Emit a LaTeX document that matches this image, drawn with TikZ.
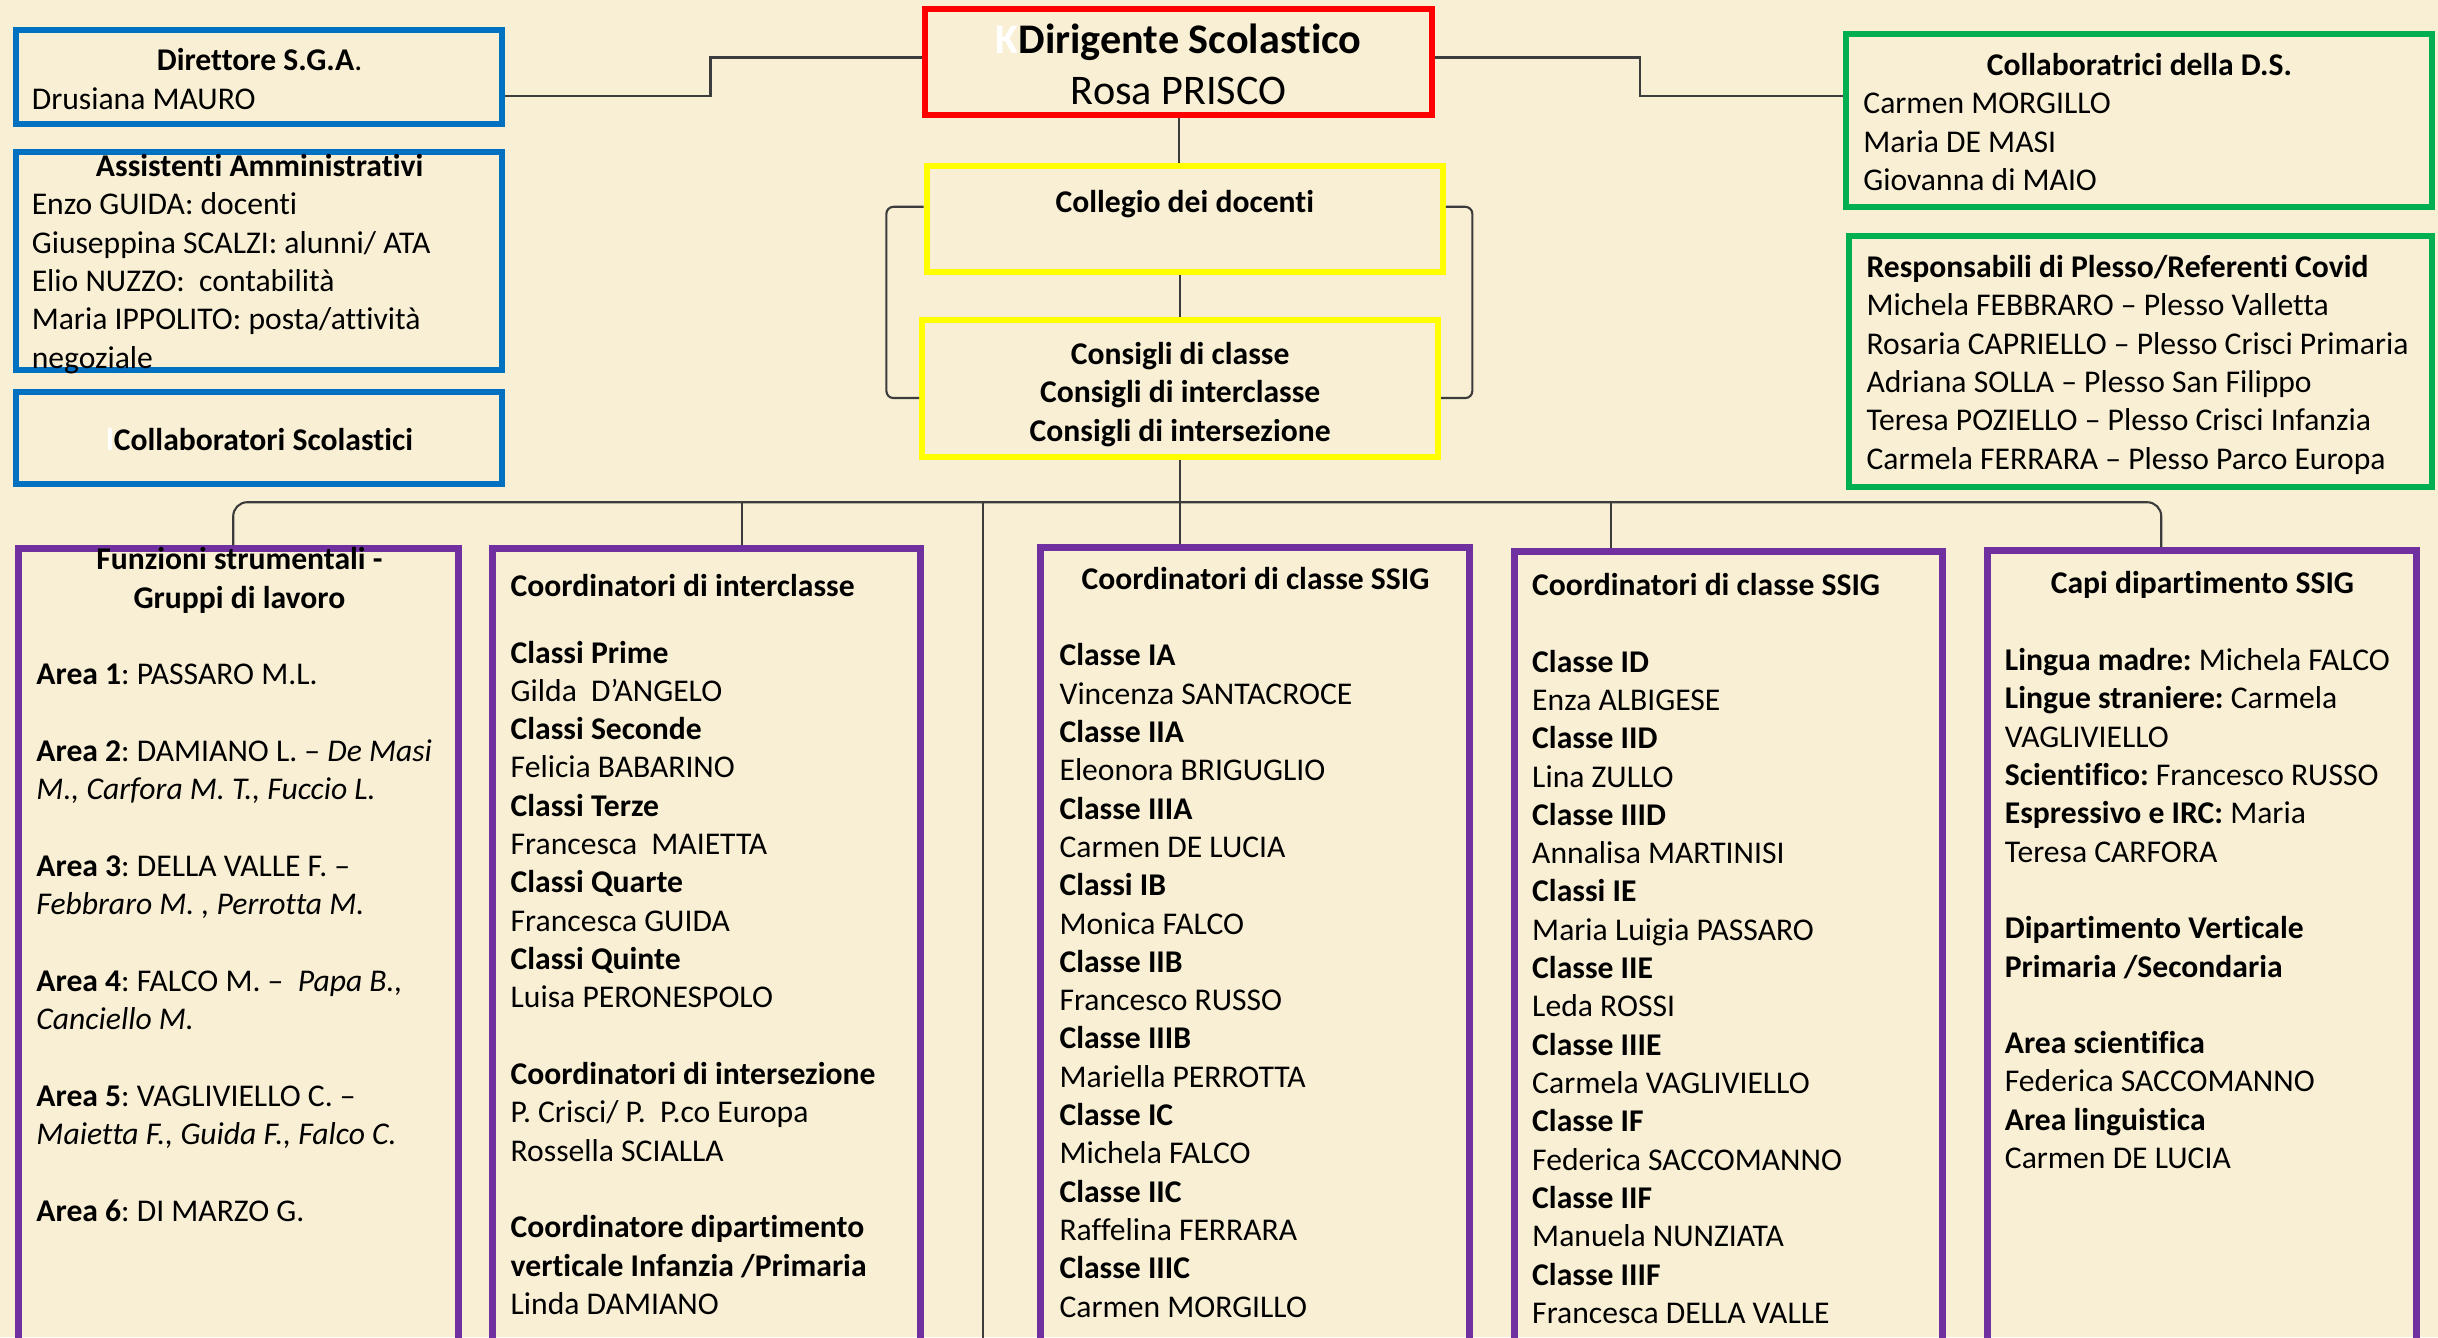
\documentclass[tikz,border=0pt]{standalone}
\usepackage{fontspec}
\setmainfont{Carlito}[Ligatures=NoCommon]
\usetikzlibrary{calc}
\newlength{\px}
\setlength{\px}{0.015548cm}
\newcommand{\ctr}[2]{\makebox[#1\px][c]{\bfseries #2}}
\definecolor{parchment}{RGB}{249,239,212}
\definecolor{boxblue}{RGB}{0,112,192}
\definecolor{boxred}{RGB}{255,0,0}
\definecolor{boxyellow}{RGB}{255,255,0}
\definecolor{boxgreen}{RGB}{0,176,80}
\definecolor{boxpurple}{RGB}{112,48,160}
\definecolor{linkgray}{RGB}{60,60,60}
\frenchspacing
\begin{document}
\begin{tikzpicture}[x=\px, y=\px,
        box/.style={draw, line width=0.06cm, inner sep=0pt},
        bluebox/.style={box, draw=boxblue},
        redbox/.style={box, draw=boxred},
        yellowbox/.style={box, draw=boxyellow},
        greenbox/.style={box, draw=boxgreen},
        purplebox/.style={box, draw=boxpurple, line width=0.07cm},
        txt/.style={inner sep=0pt, anchor=base west, font=\fontsize{9}{10.9}\selectfont},
        ctxt/.style={txt, anchor=base},
        link/.style={draw=linkgray, line width=0.6pt}]
        \fill[parchment, use as bounding box] (0,0) rectangle (1568,-860);
        \clip (0,0) rectangle (1568,-860);

        \node[bluebox, minimum width=313*\px, minimum height=61*\px] (dsga) at (166.5,-49.5) {};
        \node[bluebox, minimum width=313*\px, minimum height=140*\px] (assist) at (166.5,-168) {};
        \node[bluebox, minimum width=313*\px, minimum height=59*\px] (collsc) at (166.5,-281.5) {};
        \node[redbox, minimum width=326*\px, minimum height=68*\px] (ds) at (758,-40) {};
        \node[yellowbox, minimum width=332*\px, minimum height=68*\px] (collegio) at (762,-141) {};
        \node[yellowbox, minimum width=332*\px, minimum height=88*\px] (consigli) at (759,-250) {};
        \node[greenbox, minimum width=377*\px, minimum height=111*\px] (collab) at (1375.5,-77.5) {};
        \node[greenbox, minimum width=375*\px, minimum height=161*\px] (resp) at (1376.5,-232.5) {};
        \node[purplebox, minimum width=283*\px, minimum height=525*\px] (funz) at (153.5,-615.5) {};
        \node[purplebox, minimum width=275*\px, minimum height=525*\px] (inter) at (454.5,-615.5) {};
        \node[purplebox, minimum width=276*\px, minimum height=526*\px] (ssiga) at (807,-615) {};
        \node[purplebox, minimum width=275*\px, minimum height=523*\px] (ssigb) at (1111.5,-616.5) {};
        \node[purplebox, minimum width=276*\px, minimum height=524*\px] (capi) at (1416,-616) {};

        \node[txt] (dsga-t) at (20,-45.5) {
            \begin{tabular}[t]{@{}l@{}}
                \ctr{293}{Direttore S.G.A\mdseries.} \\
                Drusiana MAURO \\
            \end{tabular}
        };
        \node[txt] (assist-t) at (20,-113.5) {
            \begin{tabular}[t]{@{}l@{}}
                \ctr{293}{Assistenti Amministrativi} \\
                Enzo GUIDA: docenti \\
                Giuseppina SCALZI: alunni/ ATA \\
                Elio NUZZO:~ contabilità \\
                Maria IPPOLITO: posta/attività \\
                negoziale \\
            \end{tabular}
        };
        \node[txt] (collsc-t) at (20,-289.5) {
            \begin{tabular}[t]{@{}l@{}}
                \ctr{293}{\textcolor{white}{l}Collaboratori Scolastici} \\
            \end{tabular}
        };
        \node[ctxt, font=\fontsize{12}{14.55}\selectfont] (ds-t) at (758,-34.5) {
            \begin{tabular}[t]{@{}c@{}}
                \textbf{\textcolor{white}{K}Dirigente Scolastico} \\
                Rosa PRISCO \\
            \end{tabular}
        };
        \node[ctxt] (collegio-t) at (762,-136.5) {\textbf{Collegio dei docenti}};
        \node[ctxt] (consigli-t) at (759,-234.5) {
            \begin{tabular}[t]{@{}c@{}}
                \textbf{Consigli di classe} \\
                \textbf{Consigli di interclasse} \\
                \textbf{Consigli di intersezione} \\
            \end{tabular}
        };
        \node[txt] (collab-t) at (1198,-48.5) {
            \begin{tabular}[t]{@{}l@{}}
                \ctr{355}{Collaboratrici della D.S.} \\
                Carmen MORGILLO \\
                Maria DE MASI \\
                Giovanna di MAIO \\
            \end{tabular}
        };
        \node[txt] (resp-t) at (1200,-178.5) {
            \begin{tabular}[t]{@{}l@{}}
                \textbf{Responsabili di Plesso/Referenti Covid} \\
                Michela FEBBRARO – Plesso Valletta \\
                Rosaria CAPRIELLO – Plesso Crisci Primaria \\
                Adriana SOLLA – Plesso San Filippo \\
                Teresa POZIELLO – Plesso Crisci Infanzia \\
                Carmela FERRARA – Plesso Parco Europa \\
            \end{tabular}
        };
        \node[txt] (funz-t) at (23,-366.5) {
            \begin{tabular}[t]{@{}l@{}}
                \ctr{261}{Funzioni strumentali -} \\
                \ctr{261}{Gruppi di lavoro} \\
                \\
                \textbf{Area 1}: PASSARO M.L. \\
                \\
                \textbf{Area 2}: DAMIANO L. – \textit{De Masi} \\
                \textit{M., Carfora M. T., Fuccio L.} \\
                \\
                \textbf{Area 3}: DELLA VALLE F. – \\
                \textit{Febbraro M. , Perrotta M.} \\
                \\
                \textbf{Area 4}: FALCO M. –~ \textit{Papa B.,} \\
                \textit{Canciello M.} \\
                \\
                \textbf{Area 5}: VAGLIVIELLO C. – \\
                \textit{Maietta F., Guida F., Falco C.} \\
                \\
                \textbf{Area 6}: DI MARZO G. \\
            \end{tabular}
        };
        \node[txt] (inter-t) at (328,-383.5) {
            \begin{tabular}[t]{@{}l@{}}
                \textbf{Coordinatori di interclasse} \\[8.1pt]
                \textbf{Classi Prime} \\
                Gilda~ D’ANGELO \\
                \textbf{Classi Seconde} \\
                Felicia BABARINO \\
                \textbf{Classi Terze} \\
                Francesca~ MAIETTA \\
                \textbf{Classi Quarte} \\
                Francesca GUIDA \\
                \textbf{Classi Quinte} \\
                Luisa PERONESPOLO \\
                \\
                \textbf{Coordinatori di intersezione} \\
                P. Crisci/ P.~ P.co Europa \\
                Rossella SCIALLA \\
                \\
                \textbf{Coordinatore dipartimento} \\
                \textbf{verticale Infanzia /Primaria} \\
                Linda DAMIANO \\
            \end{tabular}
        };
        \node[txt] (ssiga-t) at (681,-379) {
            \begin{tabular}[t]{@{}l@{}}
                \ctr{252}{Coordinatori di classe SSIG} \\
                \\
                \textbf{Classe IA} \\
                Vincenza SANTACROCE \\
                \textbf{Classe IIA} \\
                Eleonora BRIGUGLIO \\
                \textbf{Classe IIIA} \\
                Carmen DE LUCIA \\
                \textbf{Classi IB} \\
                Monica FALCO \\
                \textbf{Classe IIB} \\
                Francesco RUSSO \\
                \textbf{Classe IIIB} \\
                Mariella PERROTTA \\
                \textbf{Classe IC} \\
                Michela FALCO \\
                \textbf{Classe IIC} \\
                Raffelina FERRARA \\
                \textbf{Classe IIIC} \\
                Carmen MORGILLO \\
            \end{tabular}
        };
        \node[txt] (ssigb-t) at (985,-383) {
            \begin{tabular}[t]{@{}l@{}}
                \textbf{Coordinatori di classe SSIG} \\
                \\
                \textbf{Classe ID} \\
                Enza ALBIGESE \\
                \textbf{Classe IID} \\
                Lina ZULLO \\
                \textbf{Classe IIID} \\
                Annalisa MARTINISI \\
                \textbf{Classi IE} \\
                Maria Luigia PASSARO \\
                \textbf{Classe IIE} \\
                Leda ROSSI \\
                \textbf{Classe IIIE} \\
                Carmela VAGLIVIELLO \\
                \textbf{Classe IF} \\
                Federica SACCOMANNO \\
                \textbf{Classe IIF} \\
                Manuela NUNZIATA \\
                \textbf{Classe IIIF} \\
                Francesca DELLA VALLE \\
            \end{tabular}
        };
        \node[txt] (capi-t) at (1289,-382) {
            \begin{tabular}[t]{@{}l@{}}
                \ctr{254}{Capi dipartimento SSIG} \\
                \\
                \textbf{Lingua madre:} Michela FALCO \\
                \textbf{Lingue straniere:} Carmela \\
                VAGLIVIELLO \\
                \textbf{Scientifico:} Francesco RUSSO \\
                \textbf{Espressivo e IRC:} Maria \\
                Teresa CARFORA \\
                \\
                \textbf{Dipartimento Verticale} \\
                \textbf{Primaria /Secondaria} \\
                \\
                \textbf{Area scientifica} \\
                Federica SACCOMANNO \\
                \textbf{Area linguistica} \\
                Carmen DE LUCIA \\
            \end{tabular}
        };

        \coordinate (busl) at (150,-323);
        \coordinate (busr) at (1390,-323);
        \coordinate (drop2) at (477,-323);
        \coordinate (drop3) at (632,-323);
        \coordinate (drop4) at (1036,-323);
        \coordinate (sepend) at (632,-870);

        \draw[link] ($(dsga.east)+(0,-12.5)$) -- ++(132,0) |- ($(ds.west)+(0,3)$);
        \draw[link] ($(ds.east)+(0,3)$) -- ++(132,0) |- ($(collab.west)+(0,15.5)$);
        \draw[link] (ds.south) -- (ds.south |- collegio.north);
        \draw[link] (consigli.north |- collegio.south) -- (consigli.north);
        \draw[link, rounded corners=2pt] ($(collegio.west)+(0,8)$) -- ++(-24,0) |- ($(consigli.west)+(0,-6)$);
        \draw[link, rounded corners=2pt] ($(collegio.east)+(0,8)$) -- ++(17,0) |- ($(consigli.east)+(0,-6)$);
        \draw[link] (consigli.south) -- (consigli.south |- ssiga.north);
        \draw[link, rounded corners=4pt] (funz.north -| busl) |- (busr) -- (busr |- capi.north);
        \draw[link] (drop2) -- (drop2 |- inter.north);
        \draw[link] (drop4) -- (drop4 |- ssigb.north);
        \draw[link] (drop3) -- (sepend);
    \end{tikzpicture}
\end{document}
